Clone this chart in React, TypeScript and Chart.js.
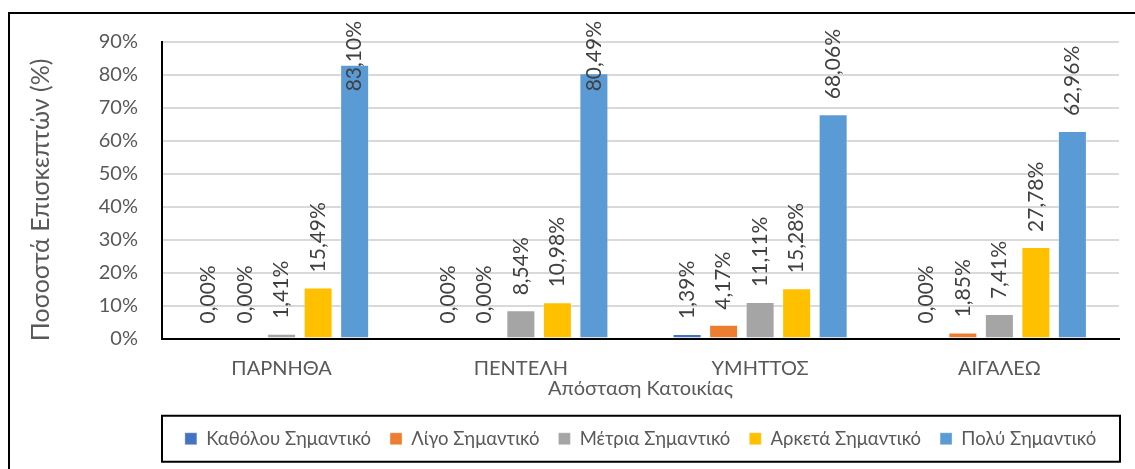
import React, { useEffect, useRef } from "react";
import { Chart, registerables } from "chart.js";

Chart.register(...registerables);

const categories = ["ΠΑΡΝΗΘΑ", "ΠΕΝΤΕΛΗ", "ΥΜΗΤΤΟΣ", "ΑΙΓΑΛΕΩ"];
const seriesNames = [
  "Καθόλου Σημαντικό",
  "Λίγο Σημαντικό",
  "Μέτρια Σημαντικό",
  "Αρκετά Σημαντικό",
  "Πολύ Σημαντικό",
];
const katholou = [0.0, 0.0, 1.39, 0.0];
const ligo = [0.0, 0.0, 4.17, 1.85];
const metria = [1.41, 8.54, 11.11, 7.41];
const arketa = [15.49, 10.98, 15.28, 27.78];
const poly = [83.1, 80.49, 68.06, 62.96];
const colors = ["#4472C4", "#ED7D31", "#A5A5A5", "#FFC000", "#5B9BD5"];
const yTicks = [0, 10, 20, 30, 40, 50, 60, 70, 80, 90];

const FONT = "Lato";
const GREY = "#595959";

const barLabels = {
  id: "barLabels",
  afterDatasetsDraw(chart: any) {
    const ctx = chart.ctx;
    ctx.save();
    ctx.font = `21px ${FONT}`;
    ctx.fillStyle = "#404040";
    ctx.textAlign = "left";
    ctx.textBaseline = "middle";
    chart.data.datasets.forEach((ds: any, di: number) => {
      const meta = chart.getDatasetMeta(di);
      meta.data.forEach((bar: any, i: number) => {
        const v = ds.data[i] as number;
        const text = v.toFixed(2).replace(".", ",") + "%";
        const w = ctx.measureText(text).width;
        let start = bar.y - 15;
        const minTop = 21;
        if (start - w < minTop) start = minTop + w;
        ctx.save();
        ctx.translate(bar.x, start);
        ctx.rotate(-Math.PI / 2);
        ctx.fillText(text, 0, 0);
        ctx.restore();
      });
    });
    ctx.restore();
  },
};

const legendBox = {
  id: "legendBox",
  afterDraw(chart: any) {
    const lg = chart.legend;
    if (!lg || !lg.legendHitBoxes || !lg.legendHitBoxes.length) return;
    const hb = lg.legendHitBoxes[0];
    const cy = hb.top + hb.height / 2;
    const ca = chart.chartArea;
    const ctx = chart.ctx;
    ctx.save();
    ctx.strokeStyle = "#000";
    ctx.lineWidth = 2;
    ctx.strokeRect(ca.left, cy - 23, ca.right - ca.left + 1, 46);
    ctx.restore();
  },
};

export default function App() {
  const ref = useRef<HTMLCanvasElement | null>(null);
  useEffect(() => {
    document.body.style.overflow = "hidden";
    const seriesData = [katholou, ligo, metria, arketa, poly];
    const chart = new Chart(ref.current as HTMLCanvasElement, {
      type: "bar",
      data: {
        labels: categories,
        datasets: seriesNames.map((name, i) => ({
          label: name,
          data: seriesData[i],
          backgroundColor: colors[i],
          borderColor: "rgba(255,255,255,0.35)",
          borderWidth: 1,
          categoryPercentage: 0.763,
          barPercentage: 0.795,
        })),
      },
      options: {
        animation: false,
        responsive: false,
        devicePixelRatio: 1,
        layout: { padding: { left: 0, top: 42, right: 16, bottom: 11 } },
        plugins: {
          tooltip: { enabled: false },
          legend: {
            position: "bottom",
            fullSize: false,
            labels: {
              boxWidth: 12,
              boxHeight: 12,
              padding: 19,
              color: GREY,
              font: { family: FONT, size: 18.5 },
            },
          },
        },
        scales: {
          x: {
            grid: { display: false, drawTicks: false },
            border: { display: true, color: "#000", width: 2 },
            ticks: { color: GREY, font: { family: FONT, size: 20 }, padding: 18 },
            title: {
              display: true,
              text: "Απόσταση Κατοικίας",
              color: GREY,
              font: { family: FONT, size: 20 },
              padding: { top: 0, bottom: 10 },
            },
            afterFit(scale: any) {
              scale.height = 72;
            },
          },
          y: {
            min: 0,
            max: 90,
            afterBuildTicks(scale: any) {
              scale.ticks = yTicks.map((v) => ({ value: v }));
            },
            grid: {
              drawTicks: false,
              color: (c: any) => (c.tick && c.tick.value === 0 ? "rgba(0,0,0,0)" : "#d9d9d9"),
              lineWidth: 2,
            },
            border: { display: true, color: "#000", width: 2 },
            ticks: {
              color: GREY,
              font: { family: FONT, size: 20 },
              padding: 24,
              callback: (v: any) => v + "%",
            },
            title: {
              display: true,
              text: "Ποσοστά Επισκεπτών (%)\u00A0\u00A0\u00A0",
              color: GREY,
              font: { family: FONT, size: 25 },
              padding: { top: 26, bottom: 0 },
            },
            afterFit(scale: any) {
              scale.width = 162;
            },
          },
        },
      },
      plugins: [barLabels, legendBox],
    });
    return () => chart.destroy();
  }, []);
  return (
    <div
      style={{
        position: "fixed",
        left: 0,
        top: 0,
        width: 1135,
        height: 469,
        overflow: "hidden",
        background: "#fff",
      }}
    >
      <div
        style={{
          position: "absolute",
          left: 8,
          top: 12,
          width: 1200,
          height: 600,
          border: "2px solid #000",
          boxSizing: "border-box",
        }}
      />
      <canvas ref={ref} width={1135} height={469} style={{ position: "absolute", left: 0, top: 0 }} />
    </div>
  );
}
